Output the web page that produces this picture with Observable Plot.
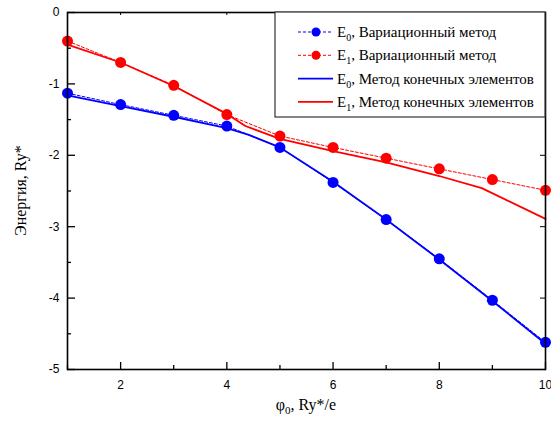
<!DOCTYPE html>
<html><head><meta charset="utf-8">
<script src="https://cdn.jsdelivr.net/npm/d3@7"></script>
<script src="https://cdn.jsdelivr.net/npm/@observablehq/plot@0.6"></script>
<style>body{margin:0;background:#fff}#chart{position:relative;width:551px;height:421px}</style>
</head><body><div id="chart"></div>
<script>
// Variational method (markers + dashed line)
const phi = [1, 2, 3, 4, 5, 6, 7, 8, 9, 10];
const e0Var = [-1.13, -1.29, -1.44, -1.59, -1.89, -2.38, -2.90, -3.45, -4.03, -4.62];
const e1Var = [-0.40, -0.70, -1.02, -1.43, -1.73, -1.89, -2.04, -2.19, -2.34, -2.49];
// Finite element method (solid lines)
const femPhi0 = [1, 2, 3, 4, 4.4, 5, 6, 7, 8, 9, 10];
const femE0 = [-1.16, -1.31, -1.46, -1.62, -1.71, -1.89, -2.37, -2.90, -3.46, -4.04, -4.64];
const femPhi1 = [1, 2, 3, 4, 4.35, 5, 6, 7, 8, 8.8, 10];
const femE1 = [-0.45, -0.70, -1.03, -1.42, -1.59, -1.77, -1.94, -2.10, -2.29, -2.46, -2.89];
// ticks
const xMajor = [2, 4, 6, 8, 10];
const xMinor = [1, 3, 5, 7, 9];
const yMajor = [0, -1, -2, -3, -4, -5];
const yMinor = [-0.5, -1.5, -2.5, -3.5, -4.5];
const legendLabels = [
  ["E", "0", ", Вариационный метод"],
  ["E", "1", ", Вариационный метод"],
  ["E", "0", ", Метод конечных элементов"],
  ["E", "1", ", Метод конечных элементов"]
];
const colors = ["#0000ff", "#ff0000", "#0000ff", "#ff0000"];

const v0 = phi.map((x, i) => ({x, y: e0Var[i]}));
const v1 = phi.map((x, i) => ({x, y: e1Var[i]}));
const f0 = femPhi0.map((x, i) => ({x, y: femE0[i]}));
const f1 = femPhi1.map((x, i) => ({x, y: femE1[i]}));

const W = 551, H = 421, mL = 67, mR = 6, mT = 12, mB = 52;
const pW = W - mL - mR, pH = H - mT - mB;
const fmt = d => String(d);
const plot = Plot.plot({
  width: W, height: H,
  marginLeft: mL, marginRight: mR, marginTop: mT, marginBottom: mB,
  x: {domain: [1, 10]},
  y: {domain: [-5, 0]},
  style: {fontFamily: "'Liberation Sans', Arial, sans-serif", fontSize: "12px", color: "#000", background: "#fff"},
  marks: [
    Plot.line(f0, {x: "x", y: "y", stroke: colors[0], strokeWidth: 1.8}),
    Plot.line(f1, {x: "x", y: "y", stroke: colors[1], strokeWidth: 1.8}),
    Plot.line(v0, {x: "x", y: "y", stroke: colors[0], strokeWidth: 1, strokeDasharray: "3,2"}),
    Plot.line(v1, {x: "x", y: "y", stroke: colors[1], strokeWidth: 1, strokeDasharray: "3,2"}),
    Plot.dot(v0, {x: "x", y: "y", fill: colors[0], r: 5.5}),
    Plot.dot(v1, {x: "x", y: "y", fill: colors[1], r: 5.5}),
    // tick labels
    Plot.axisX({ticks: xMajor, anchor: "bottom", tickSize: 0, tickPadding: 11, label: null, tickFormat: fmt}),
    Plot.axisY({ticks: yMajor, anchor: "left", tickSize: 0, tickPadding: 8, label: null, tickFormat: fmt}),
    // inward ticks
    Plot.tickX(xMajor, {x: d => d, insetTop: pH - 7, stroke: "#000", strokeWidth: 1.3}),
    Plot.tickX(xMinor, {x: d => d, insetTop: pH - 4, stroke: "#000", strokeWidth: 1.3}),
    Plot.tickX(xMajor, {x: d => d, insetBottom: pH - 3, stroke: "#000", strokeWidth: 1}),
    Plot.tickY(yMajor, {y: d => d, insetRight: pW - 8, stroke: "#000", strokeWidth: 1.3}),
    Plot.tickY(yMinor, {y: d => d, insetRight: pW - 4, stroke: "#000", strokeWidth: 1.3}),
    Plot.tickY(yMajor, {y: d => d, insetLeft: pW - 5, stroke: "#000", strokeWidth: 1}),
    Plot.frame({stroke: "#000", strokeWidth: 1.6})
  ]
});
document.getElementById("chart").appendChild(plot);

const svg = d3.select(plot);
const serif = "'Liberation Serif', 'Times New Roman', serif";
// axis titles
const xt = svg.append("text").attr("x", mL + pW / 2).attr("y", 410)
  .attr("text-anchor", "middle").style("font-family", serif).style("font-size", "16px").attr("fill", "#000");
xt.append("tspan").text("φ");
xt.append("tspan").attr("dy", 4).style("font-size", "11px").text("0");
xt.append("tspan").attr("dy", -4).text(", Ry*/e");
svg.append("text").attr("transform", `translate(26,${mT + pH / 2}) rotate(-90)`)
  .attr("text-anchor", "middle").style("font-family", serif).style("font-size", "16px").attr("fill", "#000")
  .text("Энергия, Ry*");

// legend
const lg = svg.append("g").attr("transform", "translate(275,12)");
lg.append("rect").attr("width", 270).attr("height", 105).attr("fill", "#fff").attr("stroke", "#333").attr("stroke-width", 1.2);
legendLabels.forEach((lab, i) => {
  const y = 20 + i * 23.3;
  const g = lg.append("g").attr("transform", `translate(0,${y})`);
  if (i < 2) {
    g.append("line").attr("x1", 23).attr("x2", 58).attr("y1", 0).attr("y2", 0).attr("stroke", colors[i]).attr("stroke-width", 1).attr("stroke-dasharray", "3,2");
    g.append("circle").attr("cx", 41).attr("cy", 0).attr("r", 4.5).attr("fill", colors[i]);
  } else {
    g.append("line").attr("x1", 23).attr("x2", 58).attr("y1", 0).attr("y2", 0).attr("stroke", colors[i]).attr("stroke-width", 1.8);
  }
  const t = g.append("text").attr("x", 62).attr("y", 5).attr("text-anchor", "start")
    .style("font-family", serif).style("font-size", "15px").attr("fill", "#000");
  t.append("tspan").text(lab[0]);
  t.append("tspan").attr("dy", 4).style("font-size", "10px").text(lab[1]);
  t.append("tspan").attr("dy", -4).text(lab[2]);
});
</script>
</body></html>
